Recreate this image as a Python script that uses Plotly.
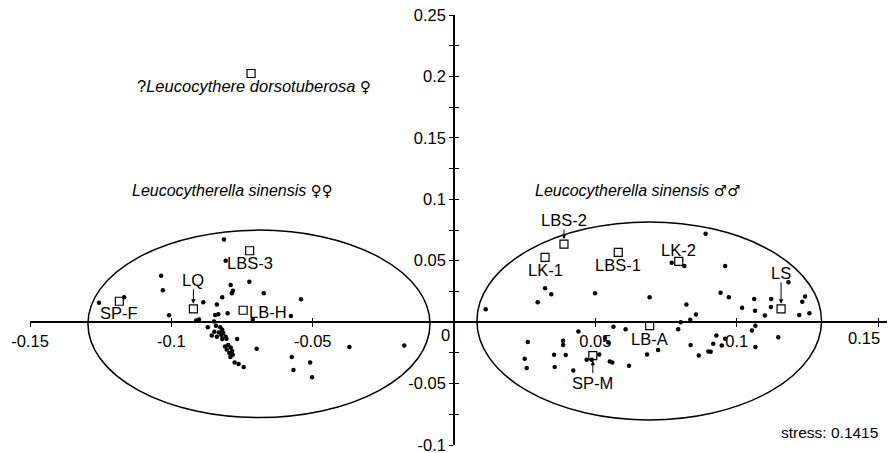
import plotly.graph_objects as go

# ---- data (MDS coordinates) ----
left_x = [-0.0814, -0.0808, -0.1036, -0.1030, -0.0724, -0.0790, -0.0782, -0.0786, -0.0673, -0.0820,
          -0.0541, -0.0887, -0.0839, -0.1167, -0.1256, -0.0845, -0.0834, -0.0801, -0.0577, -0.0712,
          -0.1008, -0.0912, -0.0902, -0.0849, -0.0871, -0.0842, -0.0827, -0.0820, -0.0848, -0.0832,
          -0.0816, -0.0857, -0.0839, -0.0823, -0.0808, -0.0820, -0.0805, -0.0767, -0.0810, -0.0799,
          -0.0790, -0.0804, -0.0785, -0.0795, -0.0783, -0.0791, -0.0776, -0.0762, -0.0744, -0.0698,
          -0.0574, -0.0509, -0.0568, -0.0502, -0.0370, -0.0176]
left_y = [0.0673, 0.0500, 0.0378, 0.0260, 0.0329, 0.0303, 0.0256, 0.0235, 0.0235, 0.0203,
          0.0187, 0.0162, 0.0143, 0.0203, 0.0157, 0.0059, 0.0065, 0.0073, 0.0051, 0.0019,
          0.0057, 0.0013, 0.0021, 0.0005, -0.0041, -0.0030, -0.0041, -0.0062, -0.0079, -0.0084,
          -0.0089, -0.0109, -0.0119, -0.0105, -0.0119, -0.0138, -0.0135, -0.0138, -0.0198, -0.0187,
          -0.0206, -0.0222, -0.0235, -0.0251, -0.0265, -0.0284, -0.0328, -0.0341, -0.0365, -0.0217,
          -0.0284, -0.0328, -0.0389, -0.0449, -0.0203, -0.0190]

right_x = [0.0890, 0.0770, 0.0815, 0.0959, 0.1183, 0.0322, 0.0344, 0.0296, 0.0112, 0.0499,
           0.0692, 0.0943, 0.0972, 0.1062, 0.1122, 0.1242, 0.1232, 0.1121, 0.0822, 0.1019,
           0.1065, 0.1100, 0.0856, 0.0836, 0.0802, 0.1221, 0.1257, 0.0564, 0.0607, 0.0440,
           0.0793, 0.1066, 0.1054, 0.1147, 0.0928, 0.0959, 0.0947, 0.0917, 0.0837, 0.1066,
           0.0900, 0.0908, 0.0866, 0.0722, 0.0683, 0.0619, 0.0551, 0.0560, 0.0514, 0.0469,
           0.0487, 0.0546, 0.0534, 0.0386, 0.0386, 0.0261, 0.0354, 0.0395, 0.0250, 0.0257,
           0.0356, 0.0422]
right_y = [0.0719, 0.0483, 0.0457, 0.0457, 0.0324, 0.0276, 0.0227, 0.0162, 0.0105, 0.0235,
           0.0203, 0.0240, 0.0203, 0.0189, 0.0189, 0.0208, 0.0165, 0.0124, 0.0143, 0.0118,
           0.0092, 0.0054, 0.0062, 0.0019, 0.0000, 0.0059, 0.0073, -0.0038, -0.0057, -0.0076,
           -0.0057, -0.0030, -0.0068, -0.0122, -0.0109, -0.0135, -0.0190, -0.0176, -0.0187, -0.0203,
           -0.0238, -0.0241, -0.0271, -0.0227, -0.0263, -0.0354, -0.0320, -0.0328, -0.0263, -0.0306,
           -0.0306, -0.0165, -0.0130, -0.0152, -0.0187, -0.0162, -0.0265, -0.0268, -0.0298, -0.0373,
           -0.0365, -0.0393]

sample_names = ["LBS-3", "LQ", "SP-F", "LB-H", "LBS-2", "LK-1", "LBS-1", "LK-2", "LS", "LB-A", "SP-M"]
sample_x = [-0.0723, -0.0922, -0.1184, -0.0746, 0.0389, 0.0322, 0.0581, 0.0795, 0.1157, 0.0692, 0.0491]
sample_y = [0.0581, 0.0108, 0.0170, 0.0097, 0.0635, 0.0527, 0.0568, 0.0495, 0.0108, -0.0028, -0.0273]

dorso_x = [-0.0718]
dorso_y = [0.2024]

# ellipses: (x0, x1, y0, y1) in data units
ellipse_female = [-0.1295, -0.0085, -0.0776, 0.0749]
ellipse_male = [0.0081, 0.1300, -0.0796, 0.0816]

x_ticks = [-0.15, -0.1, -0.05, 0.05, 0.1, 0.15]
x_ticklabels = ["-0.15", "-0.1", "-0.05", "0.05", "0.1", ""]
y_ticks = [-0.1, -0.075, -0.05, -0.025, 0.0, 0.025, 0.05, 0.075, 0.1, 0.125, 0.15, 0.175, 0.2, 0.225, 0.25]
y_ticklabels = ["-0.1", "", "-0.05", "", "", "", "0.05", "", "0.1", "", "0.15", "", "0.2", "", "0.25"]

XR = [-0.15, 0.156]
YR = [-0.1, 0.25]
FONT = "Liberation Sans, Arial, sans-serif"
SYM = '<span style="font-family:DejaVu Sans;font-size:15px">{}</span>'

fig = go.Figure()

for e in (ellipse_female, ellipse_male):
    fig.add_shape(type="circle", xref="x", yref="y", x0=e[0], x1=e[1], y0=e[2], y1=e[3],
                  line=dict(color="black", width=1.5), layer="below")

fig.add_trace(go.Scatter(x=left_x + right_x, y=left_y + right_y, mode="markers",
                         marker=dict(color="black", size=4.5), showlegend=False, hoverinfo="skip"))
fig.add_trace(go.Scatter(x=sample_x + dorso_x, y=sample_y + dorso_y, mode="markers",
                         marker=dict(symbol="square-open", color="black", size=8, line=dict(width=1.2)),
                         showlegend=False, hoverinfo="skip"))
fig.add_trace(go.Scatter(x=[None], y=[None], xaxis="x2", yaxis="y2", showlegend=False, hoverinfo="skip"))

# label placement (pixel offsets from the square)
label_style = {
    "LBS-3": dict(showarrow=False, yshift=-12),
    "LK-1": dict(showarrow=False, yshift=-13),
    "LBS-1": dict(showarrow=False, yshift=-13),
    "LK-2": dict(showarrow=False, yshift=11),
    "SP-F": dict(showarrow=False, yshift=-12),
    "LB-H": dict(showarrow=False, xanchor="left", xshift=4, yshift=-2),
    "LB-A": dict(showarrow=False, yshift=-13),
    "LQ": dict(showarrow=True, ax=0, ay=-29),
    "LBS-2": dict(showarrow=True, ax=0, ay=-24),
    "LS": dict(showarrow=True, ax=0, ay=-36),
    "SP-M": dict(showarrow=True, ax=0, ay=27),
}
LABEL_SIZE = 16.5
for name, sx, sy in zip(sample_names, sample_x, sample_y):
    st = label_style[name]
    kw = dict(x=sx, y=sy, xref="x", yref="y", text=name,
              font=dict(family=FONT, size=LABEL_SIZE, color="black"))
    if st.get("showarrow"):
        kw.update(showarrow=True, ax=st["ax"], ay=st["ay"], axref="pixel", ayref="pixel",
                  arrowhead=2, arrowsize=0.9, arrowwidth=1, arrowcolor="black", standoff=5,
                  borderpad=0)
    else:
        kw.update(showarrow=False, xshift=st.get("xshift", 0), yshift=st.get("yshift", 0),
                  xanchor=st.get("xanchor", "center"))
    fig.add_annotation(**kw)

group_font = dict(family=FONT, size=16, color="black")
fig.add_annotation(x=-0.1128, y=0.1916, xref="x", yref="y", xanchor="left", showarrow=False,
                   text="?<i>Leucocythere dorsotuberosa</i> " + SYM.format("♀"),
                   font=dict(family=FONT, size=16.5, color="black"))
fig.add_annotation(x=-0.1146, y=0.1069, xref="x", yref="y", xanchor="left", showarrow=False,
                   text="<i>Leucocytherella sinensis</i> " + SYM.format("♀♀"), font=group_font)
fig.add_annotation(x=0.0279, y=0.1065, xref="x", yref="y", xanchor="left", showarrow=False,
                   text="<i>Leucocytherella sinensis</i> " + SYM.format("♂♂"), font=group_font)
fig.add_annotation(x=0.1507, y=-0.0898, xref="x", yref="y", xanchor="right", showarrow=False,
                   text="stress: 0.1415", font=dict(family=FONT, size=15.5, color="black"))
fig.add_annotation(x=0, y=0, xref="x", yref="y", xanchor="right", yanchor="top", xshift=-2, yshift=-2,
                   showarrow=False, text="0", font=dict(family=FONT, size=16.5, color="black"))
# last x tick label is pulled in slightly so it stays inside the frame (as in the original)
fig.add_annotation(x=x_ticks[-1], y=0, xref="x", yref="y", xanchor="right", yanchor="top",
                   xshift=4, yshift=-5, showarrow=False, text="0.15",
                   font=dict(family=FONT, size=16.5, color="black"))

xpos = (0 - YR[0]) / (YR[1] - YR[0])
ypos = (0 - XR[0]) / (XR[1] - XR[0])
tickfont = dict(family=FONT, size=16.5, color="black")

common_x = dict(range=XR, showgrid=False, zeroline=False, tickvals=x_ticks, anchor="free",
                position=xpos, automargin=False, ticklabeloverflow="allow")
common_y = dict(range=YR, showgrid=False, zeroline=False, tickvals=y_ticks, anchor="free",
                position=ypos, automargin=False, ticklabeloverflow="allow")

# the page body adds an 8px offset, margins compensate so the plot area lands where it should
fig.update_layout(
    width=895, height=453,
    margin=dict(l=22, r=8, t=7, b=16, autoexpand=False),
    paper_bgcolor="white", plot_bgcolor="white",
    xaxis=dict(**common_x, ticktext=x_ticklabels, ticks="outside", ticklen=4, tickwidth=1,
               tickcolor="black", showline=True, linecolor="black", linewidth=1.5, tickfont=tickfont),
    yaxis=dict(**common_y, ticktext=y_ticklabels, ticks="outside", ticklen=4, tickwidth=1,
               tickcolor="black", showline=True, linecolor="black", linewidth=1.5, tickfont=tickfont),
    xaxis2=dict(**common_x, overlaying="x", ticks="inside", ticklen=4, tickwidth=1, tickcolor="black",
                showticklabels=False, showline=False),
    yaxis2=dict(**common_y, overlaying="y", ticks="inside", ticklen=4, tickwidth=1, tickcolor="black",
                showticklabels=False, showline=False),
)

fig.write_html("out.html")
